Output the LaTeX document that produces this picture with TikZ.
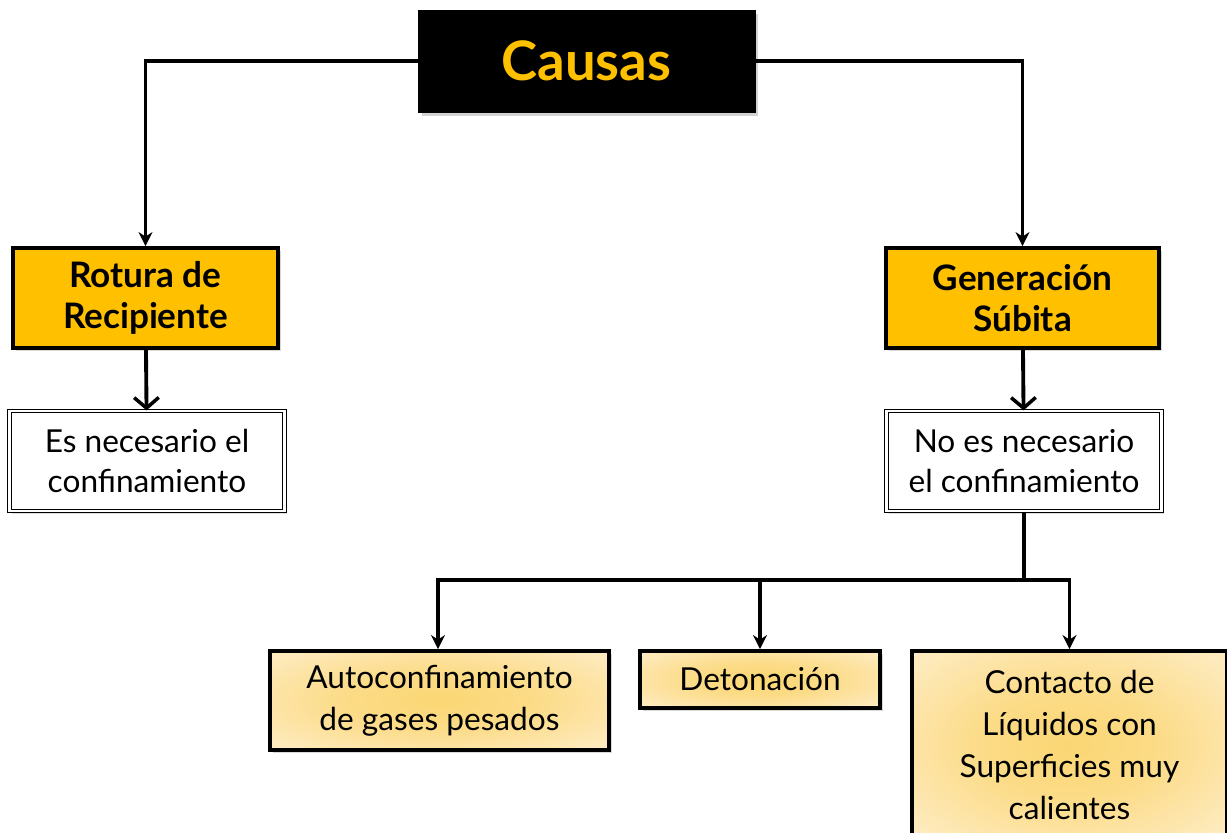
\documentclass[tikz,border=0pt]{standalone}
\usepackage{fontspec}
\setmainfont{Lato}
\usepackage{tikz}
\usetikzlibrary{arrows.meta, positioning, shadows, calc}
\definecolor{CauseGold}{HTML}{FFC000}
\definecolor{PaleGold}{HTML}{FFF2DA}
\definecolor{WarmGold}{HTML}{FBD673}
\pgfdeclareradialshading{kindglow}{\pgfpoint{0bp}{0bp}}{color(0bp)=(WarmGold); color(14bp)=(WarmGold!80!PaleGold); color(32bp)=(WarmGold!30!PaleGold); color(48bp)=(PaleGold); color(50bp)=(PaleGold)}
\tikzset{
  % Box styles
  headbox/.style={rectangle, draw=black, fill=black, text=CauseGold, minimum width=6.74cm, minimum height=2.04cm, font=\bfseries\fontsize{31}{36}\selectfont, drop shadow={shadow xshift=2pt, shadow yshift=-2pt, opacity=0.35}},
  causebox/.style={rectangle, draw=black, line width=2.2pt, fill=CauseGold, minimum width=5.3cm, minimum height=2cm, font=\bfseries\fontsize{20}{23.5}\selectfont, align=center, drop shadow={shadow xshift=1.5pt, shadow yshift=-1.5pt, opacity=0.3}},
  notebox/.style={rectangle, draw=black, double=white, double distance=1.4pt, line width=0.7pt, fill=white, minimum width=5.5cm, minimum height=2cm, font=\fontsize{18}{23}\selectfont, align=center, drop shadow={shadow xshift=1.5pt, shadow yshift=-1.5pt, opacity=0.25}},
  kindbox/.style={rectangle, draw=black, line width=2.2pt, shading=kindglow, font=\fontsize{18}{24}\selectfont, align=center, drop shadow={shadow xshift=1.5pt, shadow yshift=-1.5pt, opacity=0.3}},
  % Arrow styles
  arrow/.style={-{Stealth[length=8pt, width=8pt]}, line width=2pt},
  barbarrow/.style={-{Straight Barb[length=6pt, width=14pt, line width=2pt]}, line width=2.2pt},
  line/.style={line width=2pt}
}
\begin{document}
\begin{tikzpicture}[x=0.02cm, y=-0.02cm]
  \clip (0,0) rectangle (1227,832);
  \useasboundingbox (0,0) rectangle (1227,832);
  % Top level
  \node[headbox] (causas) at (586.5,61) {Causas};
  \node[causebox] (rotura) at (145.5,298) {Rotura de\\Recipiente};
  \node[causebox, minimum width=5.46cm] (gener) at (1022.5,298) {Generación\\Súbita};

  \draw[arrow] (causas.west) -| (rotura.north);
  \draw[arrow] (causas.east) -| (gener.north);

  % Confinement notes
  \node[notebox] (esnec) at (147,461) {Es necesario el\\confinamiento};
  \node[notebox] (noes) at (1024,461) {No es necesario\\el confinamiento};

  \draw[barbarrow] (rotura) -- (esnec);
  \draw[barbarrow] (gener) -- (noes);

  % Kinds of sudden generation
  \node[kindbox, minimum width=6.78cm, minimum height=1.98cm] (auto) at (439.5,700.5) {Autoconfinamiento\\de gases pesados};
  \node[kindbox, minimum width=4.8cm, minimum height=1.14cm] (deton) at (760,679.5) {Detonación};
  \node[kindbox, minimum width=6.3cm, minimum height=3.76cm] (contacto) at (1069.5,745) {Contacto de\\Líquidos con\\Superficies muy\\calientes};

  \coordinate (split) at (noes.south |- 0,580);
  \draw[line] (noes.south) -- (split);
  \draw[arrow] (split) -| (auto.north -| 438,0);
  \draw[arrow] (split) -| (deton.north);
  \draw[arrow] (split) -| (contacto.north);
\end{tikzpicture}
\end{document}
